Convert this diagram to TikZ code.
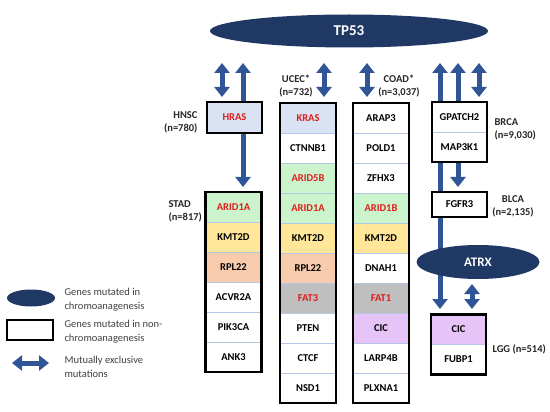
\documentclass[tikz,border=0pt]{standalone}
\usepackage{fontspec}
\setmainfont{Carlito}
\usetikzlibrary{positioning}
\usetikzlibrary{shapes.geometric}
\usetikzlibrary{arrows.meta}
\usetikzlibrary{fit}
\definecolor{navy}{RGB}{31,56,100}
\definecolor{arrowblue}{RGB}{47,85,151}
\definecolor{genered}{RGB}{222,30,30}
\definecolor{cellblue}{RGB}{218,227,243}
\definecolor{cellgreen}{RGB}{204,244,204}
\definecolor{cellyellow}{RGB}{255,230,153}
\definecolor{cellsalmon}{RGB}{248,203,173}
\definecolor{cellgray}{RGB}{191,191,191}
\definecolor{cellpink}{RGB}{231,196,247}
\definecolor{divider}{RGB}{180,199,231}
\definecolor{legendtext}{RGB}{64,64,64}

\begin{document}
\begin{tikzpicture}[x=1pt,y=-1pt,>={Triangle[width=15pt,length=10pt]}]
	\tikzstyle{cell}=[rectangle, minimum width=56pt, minimum height=30pt, inner sep=0pt, outer sep=0pt, draw=divider, line width=0.6pt, font=\bfseries\fontsize{10.5}{13}\selectfont]
	\tikzstyle{hot}=[text=genered]
	\tikzstyle{frame}=[rectangle, draw=black, line width=2.6pt, inner sep=0pt]
	\tikzstyle{chromo}=[ellipse, fill=navy, text=white, inner sep=0pt]
	\tikzstyle{mutex}=[draw=arrowblue, fill=arrowblue, line width=5pt, <->]
	\tikzstyle{cohort}=[font=\bfseries\fontsize{10.5}{13}\selectfont, text=black!85]
	\tikzstyle{legend}=[font=\fontsize{10.5}{13.5}\selectfont, text=legendtext, align=left, anchor=west]
	
	\useasboundingbox (0,0) rectangle (550,412);
	
	% arrow ends below TP53
	\coordinate (tpHnsc) at (222,63);
	\coordinate (tpStad) at (243,63);
	\coordinate (tpUcec) at (324,63);
	\coordinate (tpCoad) at (367,63);
	\coordinate (tpLgg) at (440,63);
	\coordinate (tpBlca) at (458,63);
	\coordinate (tpBrca) at (479,63);
	\coordinate (endHnsc) at (222,97);
	\coordinate (endStad) at (243,187);
	\coordinate (endUcec) at (324,97);
	\coordinate (endCoad) at (367,97);
	\coordinate (endLgg) at (440,309);
	\coordinate (endBlca) at (458,187);
	\coordinate (endBrca) at (479,97);
	\coordinate (atrxLow) at (472,284);
	\coordinate (atrxLgg) at (472,309);
	
	\draw [mutex] (tpHnsc) -- (endHnsc);
	\draw [mutex] (tpStad) -- (endStad);
	\draw [mutex] (tpUcec) -- (endUcec);
	\draw [mutex] (tpCoad) -- (endCoad);
	\draw [mutex] (tpLgg) -- (endLgg);
	\draw [mutex] (tpBlca) -- (endBlca);
	\draw [mutex] (tpBrca) -- (endBrca);
	\draw [mutex] (atrxLow) -- (atrxLgg);
	
	% HNSC
	\node [cell, fill=cellblue, hot, minimum width=55pt, minimum height=31pt] (hras) at (234.5,117.5) {HRAS};
	\node [frame, fit=(hras)] (hnsc) {};
	\node [cohort, align=right, anchor=east] (hnscLabel) at (201,122) {HNSC\\(n=780)};
	
	% STAD
	\node [cell, fill=cellgreen, hot] (stad1) at (233.5,207) {ARID1A};
	\node [cell, fill=cellyellow] (stad2) at (233.5,237) {KMT2D};
	\node [cell, fill=cellsalmon] (stad3) at (233.5,267) {RPL22};
	\node [cell, fill=white] (stad4) at (233.5,297) {ACVR2A};
	\node [cell, fill=white] (stad5) at (233.5,327) {PIK3CA};
	\node [cell, fill=white] (stad6) at (233.5,357) {ANK3};
	\node [frame, fit=(stad1)(stad6)] (stad) {};
	\node [cohort, align=left, anchor=west] (stadLabel) at (165,211) {STAD\\(n=817)};
	
	% UCEC
	\node [cell, fill=cellblue, hot] (ucec1) at (308,118) {KRAS};
	\node [cell, fill=white] (ucec2) at (308,148) {CTNNB1};
	\node [cell, fill=cellgreen, hot] (ucec3) at (308,178) {ARID5B};
	\node [cell, fill=cellgreen, hot] (ucec4) at (308,208) {ARID1A};
	\node [cell, fill=cellyellow] (ucec5) at (308,238) {KMT2D};
	\node [cell, fill=cellsalmon] (ucec6) at (308,268) {RPL22};
	\node [cell, fill=cellgray, hot] (ucec7) at (308,298) {FAT3};
	\node [cell, fill=white] (ucec8) at (308,328) {PTEN};
	\node [cell, fill=white] (ucec9) at (308,358) {CTCF};
	\node [cell, fill=white] (ucec10) at (308,388) {NSD1};
	\node [frame, fit=(ucec1)(ucec10)] (ucec) {};
	\node [cohort, align=center] (ucecLabel) at (296,86) {UCEC*\\(n=732)};
	
	% COAD
	\node [cell, fill=white] (coad1) at (381,118) {ARAP3};
	\node [cell, fill=white] (coad2) at (381,148) {POLD1};
	\node [cell, fill=white] (coad3) at (381,178) {ZFHX3};
	\node [cell, fill=cellgreen, hot] (coad4) at (381,208) {ARID1B};
	\node [cell, fill=cellyellow] (coad5) at (381,238) {KMT2D};
	\node [cell, fill=white] (coad6) at (381,268) {DNAH1};
	\node [cell, fill=cellgray, hot] (coad7) at (381,298) {FAT1};
	\node [cell, fill=cellpink] (coad8) at (381,328) {CIC};
	\node [cell, fill=white] (coad9) at (381,358) {LARP4B};
	\node [cell, fill=white] (coad10) at (381,388) {PLXNA1};
	\node [frame, fit=(coad1)(coad10)] (coad) {};
	\node [cohort, align=center] (coadLabel) at (399,86) {COAD*\\(n=3,037)};
	
	% BRCA
	\node [cell, fill=white, minimum width=55pt] (brca1) at (459.5,117) {GPATCH2};
	\node [cell, fill=white, minimum width=55pt] (brca2) at (459.5,147) {MAP3K1};
	\node [frame, fit=(brca1)(brca2)] (brca) {};
	\node [cohort, align=left, anchor=west] (brcaLabel) at (491,129) {BRCA\\(n=9,030)};
	
	% BLCA
	\node [cell, fill=white, minimum width=55pt, minimum height=25pt] (fgfr3) at (459.5,204.5) {FGFR3};
	\node [frame, fit=(fgfr3)] (blca) {};
	\node [cohort, align=center] (blcaLabel) at (513,206) {BLCA\\(n=2,135)};
	
	% LGG
	\node [cell, fill=cellpink, minimum width=55pt] (lgg1) at (458.5,329.5) {CIC};
	\node [cell, fill=white, minimum width=55pt] (lgg2) at (458.5,359.5) {FUBP1};
	\node [frame, fit=(lgg1)(lgg2)] (lgg) {};
	\node [cohort, anchor=west] (lggLabel) at (489,349) {LGG (n=514)};
	
	% chromoanagenesis genes
	\node [chromo, minimum width=278pt, minimum height=33pt, font=\bfseries\fontsize{15}{17}\selectfont] (tp53) at (349,31) {TP53};
	\node [chromo, minimum width=123pt, minimum height=34pt, font=\bfseries\fontsize{13}{15}\selectfont] (atrx) at (478,262) {ATRX};
	
	% legend
	\node [chromo, minimum width=48pt, minimum height=17pt] (keyEllipse) at (31,298) {};
	\node [legend] (keyEllipseText) at (61,300) {Genes mutated in\\chromoanagenesis};
	\node [frame, minimum width=46pt, minimum height=20pt] (keyBox) at (30,330) {};
	\node [legend] (keyBoxText) at (61,332) {Genes mutated in non-\\chromoanagenesis};
	\coordinate (keyLeft) at (12,363);
	\coordinate (keyRight) at (49,363);
	\draw [mutex] (keyLeft) -- (keyRight);
	\node [legend] (keyArrowText) at (61,367) {Mutually exclusive\\mutations};
\end{tikzpicture}
\end{document}
